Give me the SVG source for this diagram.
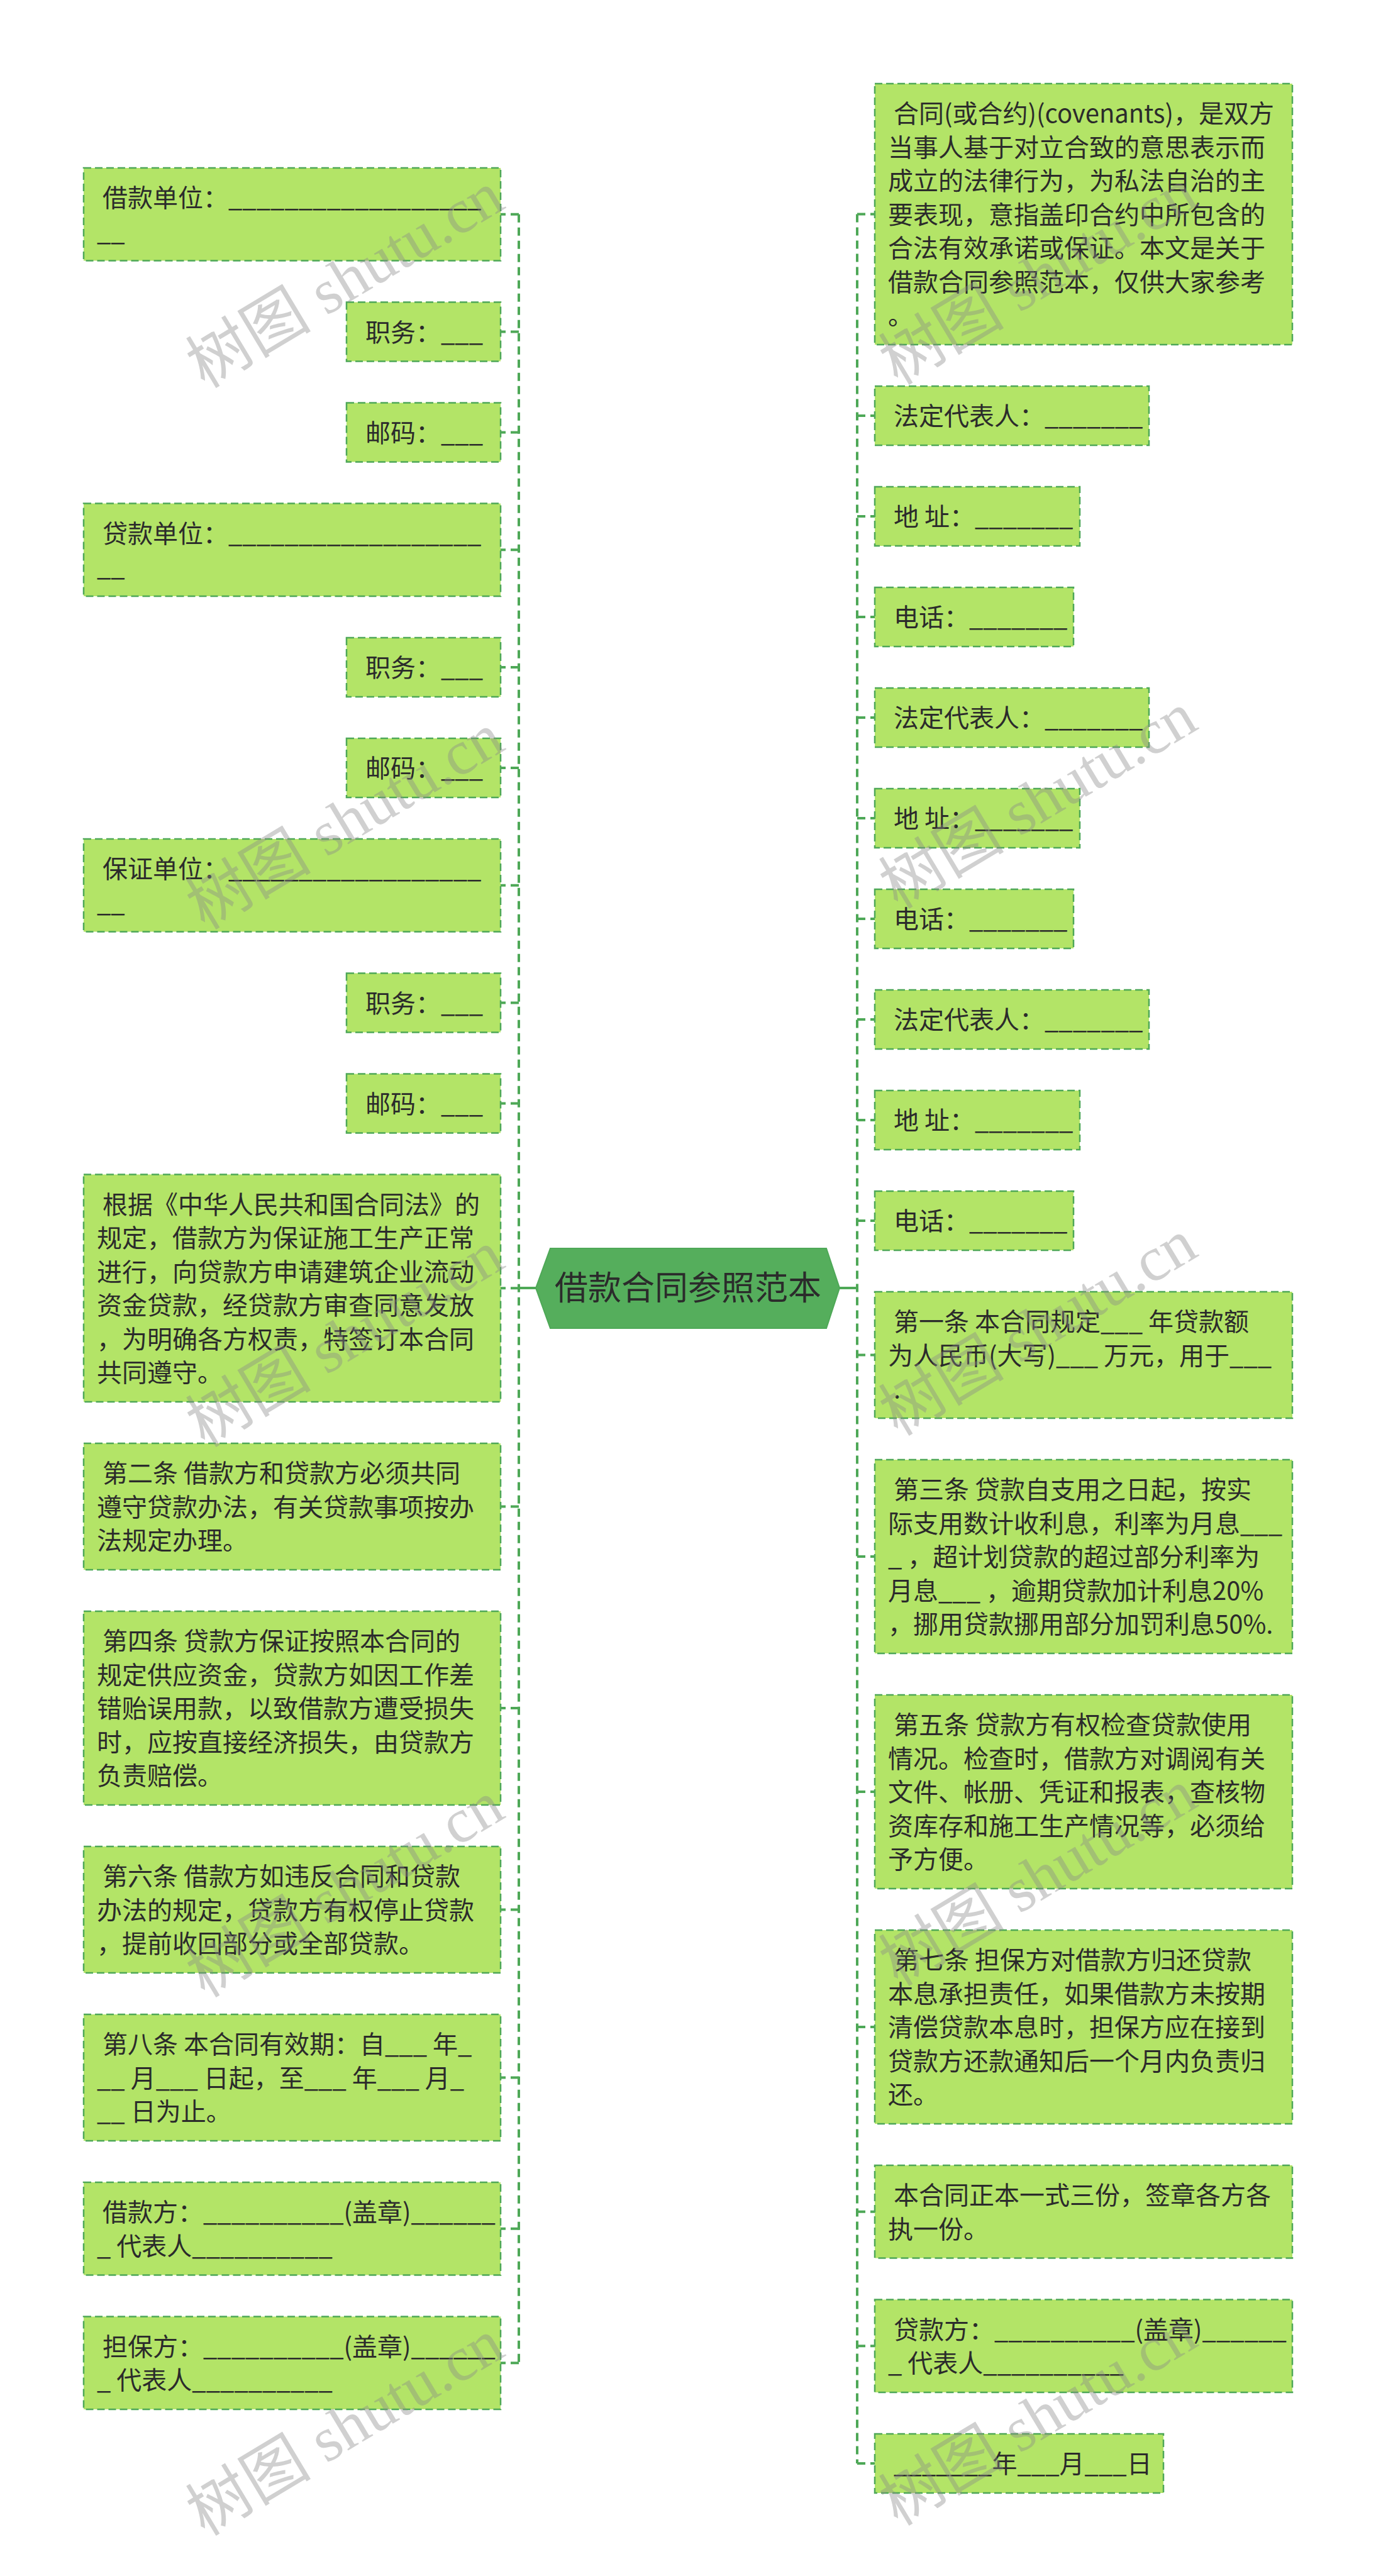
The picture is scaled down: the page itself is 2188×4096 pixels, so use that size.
<svg xmlns="http://www.w3.org/2000/svg" width="2188" height="4096" viewBox="0 0 2188 4096" xml:space="preserve">
<style>
.box{fill:#b3e467;stroke:#4ea857;stroke-width:2.5;stroke-dasharray:12 6;}
.t{font-family:"Noto Sans CJK SC","Noto Sans",sans-serif;font-size:40px;fill:#2b2b2b;white-space:pre;}
.conn{stroke:#4ea857;stroke-width:4;fill:none;stroke-dasharray:13 8;}
.solid{stroke:#4ea857;stroke-width:4;fill:none;}
.hex{fill:#55ae5c;stroke:#4ea857;stroke-width:2;}
.ct{font-family:"Noto Sans CJK SC","Noto Sans",sans-serif;font-size:53px;fill:#2b2b2b;text-anchor:middle;}
.wm{font-family:"Liberation Serif","Noto Sans CJK SC",serif;font-size:100px;fill:#8a8a8a;fill-opacity:0.4;text-anchor:middle;white-space:pre;}
</style>
<rect width="2188" height="4096" fill="#ffffff"/>
<g id="connectors">
<path class="solid" d="M852,2048 H825 M1335,2048 H1363"/>
<path class="conn" d="M825,340.75 V3757.25"/>
<path class="conn" d="M825,340.75 H796 M825,527.5 H796 M825,687.5 H796 M825,874.25 H796 M825,1061 H796 M825,1221 H796 M825,1407.75 H796 M825,1594.5 H796 M825,1754.5 H796 M825,2048.25 H796 M825,2395.5 H796 M825,2716 H796 M825,3036.5 H796 M825,3303.5 H796 M825,3543.75 H796 M825,3757.25 H796"/>
<path class="conn" d="M1363,340.5 V3917"/>
<path class="conn" d="M1363,340.5 H1391 M1363,661 H1391 M1363,821 H1391 M1363,981 H1391 M1363,1141 H1391 M1363,1301 H1391 M1363,1461 H1391 M1363,1621 H1391 M1363,1781 H1391 M1363,1941 H1391 M1363,2154.5 H1391 M1363,2475 H1391 M1363,2849 H1391 M1363,3223 H1391 M1363,3516.75 H1391 M1363,3730.25 H1391 M1363,3917 H1391"/>
</g>
<g id="root">
<polygon class="hex" points="852,2048 875,1985 1314,1985 1335,2048 1314,2112 875,2112"/>
<text class="ct" x="1094" y="2067">借款合同参照范本</text>
</g>
<g id="L1"><rect class="box" x="133" y="267" width="663" height="147.5"/><text class="t" x="154" y="329"> 借款单位：__________________<tspan x="154" dy="53.5">__</tspan></text></g>
<g id="L2"><rect class="box" x="551" y="480.5" width="245" height="94"/><text class="t" x="572" y="542.5"> 职务：___</text></g>
<g id="L3"><rect class="box" x="551" y="640.5" width="245" height="94"/><text class="t" x="572" y="702.5"> 邮码：___</text></g>
<g id="L4"><rect class="box" x="133" y="800.5" width="663" height="147.5"/><text class="t" x="154" y="862.5"> 贷款单位：__________________<tspan x="154" dy="53.5">__</tspan></text></g>
<g id="L5"><rect class="box" x="551" y="1014" width="245" height="94"/><text class="t" x="572" y="1076"> 职务：___</text></g>
<g id="L6"><rect class="box" x="551" y="1174" width="245" height="94"/><text class="t" x="572" y="1236"> 邮码：___</text></g>
<g id="L7"><rect class="box" x="133" y="1334" width="663" height="147.5"/><text class="t" x="154" y="1396"> 保证单位：__________________<tspan x="154" dy="53.5">__</tspan></text></g>
<g id="L8"><rect class="box" x="551" y="1547.5" width="245" height="94"/><text class="t" x="572" y="1609.5"> 职务：___</text></g>
<g id="L9"><rect class="box" x="551" y="1707.5" width="245" height="94"/><text class="t" x="572" y="1769.5"> 邮码：___</text></g>
<g id="L10"><rect class="box" x="133" y="1867.5" width="663" height="361.5"/><text class="t" x="154" y="1929.5"> 根据《中华人民共和国合同法》的<tspan x="154" dy="53.5">规定，借款方为保证施工生产正常</tspan><tspan x="154" dy="53.5">进行，向贷款方申请建筑企业流动</tspan><tspan x="154" dy="53.5">资金贷款，经贷款方审查同意发放</tspan><tspan x="154" dy="53.5">，为明确各方权责，特签订本合同</tspan><tspan x="154" dy="53.5">共同遵守。</tspan></text></g>
<g id="L11"><rect class="box" x="133" y="2295" width="663" height="201"/><text class="t" x="154" y="2357"> 第二条 借款方和贷款方必须共同<tspan x="154" dy="53.5">遵守贷款办法，有关贷款事项按办</tspan><tspan x="154" dy="53.5">法规定办理。</tspan></text></g>
<g id="L12"><rect class="box" x="133" y="2562" width="663" height="308"/><text class="t" x="154" y="2624"> 第四条 贷款方保证按照本合同的<tspan x="154" dy="53.5">规定供应资金，贷款方如因工作差</tspan><tspan x="154" dy="53.5">错贻误用款，以致借款方遭受损失</tspan><tspan x="154" dy="53.5">时，应按直接经济损失，由贷款方</tspan><tspan x="154" dy="53.5">负责赔偿。</tspan></text></g>
<g id="L13"><rect class="box" x="133" y="2936" width="663" height="201"/><text class="t" x="154" y="2998"> 第六条 借款方如违反合同和贷款<tspan x="154" dy="53.5">办法的规定，贷款方有权停止贷款</tspan><tspan x="154" dy="53.5">，提前收回部分或全部贷款。</tspan></text></g>
<g id="L14"><rect class="box" x="133" y="3203" width="663" height="201"/><text class="t" x="154" y="3265"> 第八条 本合同有效期：自___ 年_<tspan x="154" dy="53.5">__ 月___ 日起，至___ 年___ 月_</tspan><tspan x="154" dy="53.5">__ 日为止。</tspan></text></g>
<g id="L15"><rect class="box" x="133" y="3470" width="663" height="147.5"/><text class="t" x="154" y="3532"> 借款方：__________(盖章)______<tspan x="154" dy="53.5">_ 代表人__________</tspan></text></g>
<g id="L16"><rect class="box" x="133" y="3683.5" width="663" height="147.5"/><text class="t" x="154" y="3745.5"> 担保方：__________(盖章)______<tspan x="154" dy="53.5">_ 代表人__________</tspan></text></g>
<g id="R1"><rect class="box" x="1391" y="133" width="664" height="415"/><text class="t" x="1412" y="195"> 合同(或合约)(covenants)，是双方<tspan x="1412" dy="53.5">当事人基于对立合致的意思表示而</tspan><tspan x="1412" dy="53.5">成立的法律行为，为私法自治的主</tspan><tspan x="1412" dy="53.5">要表现，意指盖印合约中所包含的</tspan><tspan x="1412" dy="53.5">合法有效承诺或保证。本文是关于</tspan><tspan x="1412" dy="53.5">借款合同参照范本，仅供大家参考</tspan><tspan x="1412" dy="53.5">。</tspan></text></g>
<g id="R2"><rect class="box" x="1391" y="614" width="436" height="94"/><text class="t" x="1412" y="676"> 法定代表人：_______</text></g>
<g id="R3"><rect class="box" x="1391" y="774" width="326" height="94"/><text class="t" x="1412" y="836"> 地 址：_______</text></g>
<g id="R4"><rect class="box" x="1391" y="934" width="316" height="94"/><text class="t" x="1412" y="996"> 电话：_______</text></g>
<g id="R5"><rect class="box" x="1391" y="1094" width="436" height="94"/><text class="t" x="1412" y="1156"> 法定代表人：_______</text></g>
<g id="R6"><rect class="box" x="1391" y="1254" width="326" height="94"/><text class="t" x="1412" y="1316"> 地 址：_______</text></g>
<g id="R7"><rect class="box" x="1391" y="1414" width="316" height="94"/><text class="t" x="1412" y="1476"> 电话：_______</text></g>
<g id="R8"><rect class="box" x="1391" y="1574" width="436" height="94"/><text class="t" x="1412" y="1636"> 法定代表人：_______</text></g>
<g id="R9"><rect class="box" x="1391" y="1734" width="326" height="94"/><text class="t" x="1412" y="1796"> 地 址：_______</text></g>
<g id="R10"><rect class="box" x="1391" y="1894" width="316" height="94"/><text class="t" x="1412" y="1956"> 电话：_______</text></g>
<g id="R11"><rect class="box" x="1391" y="2054" width="664" height="201"/><text class="t" x="1412" y="2116"> 第一条 本合同规定___ 年贷款额<tspan x="1412" dy="53.5">为人民币(大写)___ 万元，用于___</tspan><tspan x="1412" dy="53.5"> .</tspan></text></g>
<g id="R12"><rect class="box" x="1391" y="2321" width="664" height="308"/><text class="t" x="1412" y="2383"> 第三条 贷款自支用之日起，按实<tspan x="1412" dy="53.5">际支用数计收利息，利率为月息___</tspan><tspan x="1412" dy="53.5">_ ，超计划贷款的超过部分利率为</tspan><tspan x="1412" dy="53.5">月息___ ，逾期贷款加计利息20%</tspan><tspan x="1412" dy="53.5">，挪用贷款挪用部分加罚利息50%.</tspan></text></g>
<g id="R13"><rect class="box" x="1391" y="2695" width="664" height="308"/><text class="t" x="1412" y="2757"> 第五条 贷款方有权检查贷款使用<tspan x="1412" dy="53.5">情况。检查时，借款方对调阅有关</tspan><tspan x="1412" dy="53.5">文件、帐册、凭证和报表，查核物</tspan><tspan x="1412" dy="53.5">资库存和施工生产情况等，必须给</tspan><tspan x="1412" dy="53.5">予方便。</tspan></text></g>
<g id="R14"><rect class="box" x="1391" y="3069" width="664" height="308"/><text class="t" x="1412" y="3131"> 第七条 担保方对借款方归还贷款<tspan x="1412" dy="53.5">本息承担责任，如果借款方未按期</tspan><tspan x="1412" dy="53.5">清偿贷款本息时，担保方应在接到</tspan><tspan x="1412" dy="53.5">贷款方还款通知后一个月内负责归</tspan><tspan x="1412" dy="53.5">还。</tspan></text></g>
<g id="R15"><rect class="box" x="1391" y="3443" width="664" height="147.5"/><text class="t" x="1412" y="3505"> 本合同正本一式三份，签章各方各<tspan x="1412" dy="53.5">执一份。</tspan></text></g>
<g id="R16"><rect class="box" x="1391" y="3656.5" width="664" height="147.5"/><text class="t" x="1412" y="3718.5"> 贷款方：__________(盖章)______<tspan x="1412" dy="53.5">_ 代表人__________</tspan></text></g>
<g id="R17"><rect class="box" x="1391" y="3870" width="459" height="94"/><text class="t" x="1412" y="3932"> _______年___月___日</text></g>
<g id="watermarks">
<text class="wm" x="548" y="479" transform="rotate(-31 548 444)">树图 shutu.cn</text>
<text class="wm" x="1650" y="474" transform="rotate(-31 1650 439)">树图 shutu.cn</text>
<text class="wm" x="548" y="1340" transform="rotate(-31 548 1305)">树图 shutu.cn</text>
<text class="wm" x="1650" y="1307" transform="rotate(-31 1650 1272)">树图 shutu.cn</text>
<text class="wm" x="548" y="2163" transform="rotate(-31 548 2128)">树图 shutu.cn</text>
<text class="wm" x="1650" y="2145" transform="rotate(-31 1650 2110)">树图 shutu.cn</text>
<text class="wm" x="548" y="3038" transform="rotate(-31 548 3003)">树图 shutu.cn</text>
<text class="wm" x="1650" y="3020" transform="rotate(-31 1650 2985)">树图 shutu.cn</text>
<text class="wm" x="548" y="3894" transform="rotate(-31 548 3859)">树图 shutu.cn</text>
<text class="wm" x="1650" y="3878" transform="rotate(-31 1650 3843)">树图 shutu.cn</text>
</g>
</svg>
